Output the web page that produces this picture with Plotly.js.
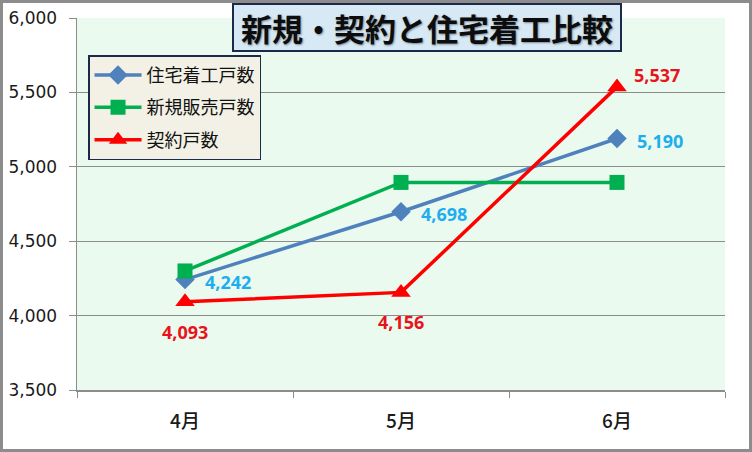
<!DOCTYPE html>
<html><head><meta charset="utf-8">
<script src="https://cdn.plot.ly/plotly-3.0.1.min.js"></script>
<style>
html,body{margin:0;padding:0;background:#fff;}
#wrap{position:relative;width:752px;height:452px;}
#chart{width:752px;height:452px;}
#frame{position:absolute;left:0;top:0;width:752px;height:452px;box-sizing:border-box;border:3px solid #8c8c8c;pointer-events:none;}
</style></head>
<body>
<div id="wrap"><div id="chart"></div><div id="frame"></div></div>
<script>
const categories = ['4月', '5月', '6月'];
const housingStarts = [4242, 4698, 5190];      // 住宅着工戸数
const newSales = [4300, 4895, 4895];           // 新規販売戸数
const contracts = [4093, 4156, 5537];          // 契約戸数
const yTicks = [3500, 4000, 4500, 5000, 5500, 6000];
const titleText = '新規・契約と住宅着工比較';

const jp = '"Noto Sans CJK JP", "Noto Sans", sans-serif';
const num = '"DejaVu Sans", Verdana, sans-serif';
const lbl = '"Open Sans", "DejaVu Sans", sans-serif';

const traces = [
  {
    x: categories, y: housingStarts, name: '住宅着工戸数', type: 'scatter',
    mode: 'lines+markers', legendgroup: 'a',
    line: {color: '#4f81bd', width: 3.5},
    marker: {symbol: 'diamond', size: 15, color: '#4f81bd'},
    cliponaxis: false
  },
  {
    x: categories, y: newSales, name: '新規販売戸数', type: 'scatter',
    mode: 'lines+markers', legendgroup: 'b',
    line: {color: '#00b050', width: 3.5},
    marker: {symbol: 'square', size: 15, color: '#00b050'},
    cliponaxis: false
  },
  {
    x: categories, y: contracts, name: '契約戸数', type: 'scatter',
    mode: 'lines+markers', legendgroup: 'c',
    line: {color: '#ff0000', width: 3.5},
    marker: {symbol: 'triangle-up', size: 17, color: '#ff0000'},
    cliponaxis: false
  }
];

// data labels built from the series arrays
const fmt = v => v.toLocaleString('en-US');
const blueLabels = categories.map((c, i) => ({
  x: c, y: housingStarts[i], text: '<b>' + fmt(housingStarts[i]) + '</b>',
  xref: 'x', yref: 'y', showarrow: false, xanchor: 'left', yanchor: 'middle',
  xshift: 18, yshift: -2,
  font: {family: lbl, size: 18, color: '#1eaef0'}
}));
const redPlacement = [
  {xanchor: 'center', xshift: 0, yshift: -30},
  {xanchor: 'center', xshift: 0, yshift: -30},
  {xanchor: 'left', xshift: 15, yshift: 12}
];
const redLabels = categories.map((c, i) => Object.assign({
  x: c, y: contracts[i], text: '<b>' + fmt(contracts[i]) + '</b>',
  xref: 'x', yref: 'y', showarrow: false, yanchor: 'middle',
  font: {family: lbl, size: 18, color: '#e8141c'}
}, redPlacement[i]));

const layout = {
  width: 752, height: 452,
  margin: {l: 77, r: 27, t: 18, b: 62},
  paper_bgcolor: '#ffffff',
  plot_bgcolor: '#ebfaef',
  showlegend: true,
  legend: {
    x: 0.017, y: 0.9, xanchor: 'left', yanchor: 'top',
    bgcolor: '#f3f1e5', bordercolor: '#1c2a4a', borderwidth: 1.5,
    font: {family: jp, size: 18, color: '#111'},
    traceorder: 'grouped', tracegroupgap: 6, itemwidth: 47
  },
  xaxis: {
    type: 'category', range: [-0.5, 2.5],
    tickson: 'boundaries', ticks: 'outside', ticklen: 6, tickcolor: '#8c8c8c',
    showline: true, linecolor: '#8c8c8c', linewidth: 1.5,
    showgrid: false, zeroline: false,
    tickfont: {family: jp, size: 19, color: '#1a1a1a', weight: 500},
    ticklabelstandoff: 14
  },
  yaxis: {
    range: [3500, 6000], tickvals: yTicks, tickformat: ',',
    ticks: 'outside', ticklen: 7, tickcolor: '#8c8c8c',
    showline: true, linecolor: '#8c8c8c', linewidth: 1.5,
    showgrid: true, gridcolor: '#8c8c8c', gridwidth: 1, zeroline: false,
    tickfont: {family: num, size: 17, color: '#1a1a1a'},
    ticklabelstandoff: 8
  },
  annotations: [{
    xref: 'paper', yref: 'paper', x: 0.54, y: 0.974,
    xanchor: 'center', yanchor: 'middle', showarrow: false,
    text: '<b>\u00a0' + titleText + '\u00a0</b>',
    font: {family: jp, size: 31, color: '#0d0d0d', shadow: '1px 1px 2px #7a8a99'},
    bgcolor: '#d6e9f5', bordercolor: '#1c2a4a', borderwidth: 2, borderpad: 0
  }].concat(blueLabels, redLabels)
};

Plotly.newPlot('chart', traces, layout, {displayModeBar: false, staticPlot: true});
</script>
</body></html>
